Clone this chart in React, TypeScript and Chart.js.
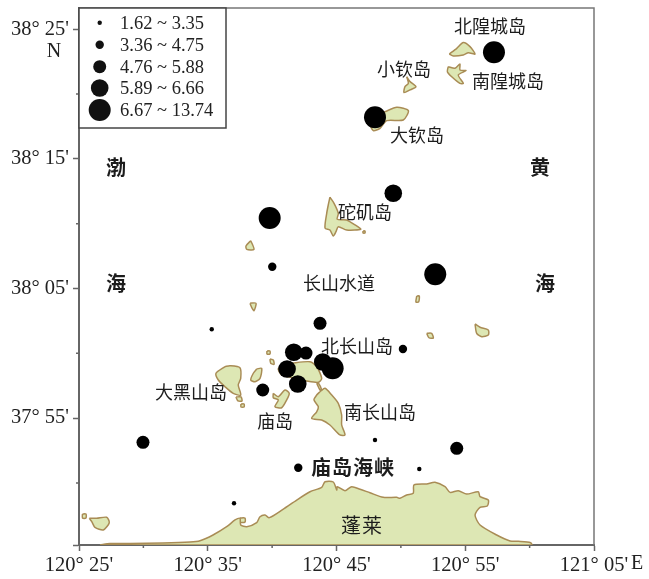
import React, { useEffect, useRef } from "react";
import { Chart, registerables } from "chart.js";

Chart.register(...registerables);

// All positions: minutes east of 120° (x) and minutes north of 37° (y)
const xMajor = [25, 35, 45, 55, 65];
const xMinor = [30, 40, 50, 60];
const xTickLabels = ["120° 25'", "120° 35'", "120° 45'", "120° 55'", "121° 05'"];
const yMajor = [45.21, 55, 65, 75, 85];
const yMinor = [50, 60, 70, 80];
const yTickLabels = ["", "37° 55'", "38° 05'", "38° 15'", "38° 25'"];

const legendLabels = ["1.62 ~ 3.35", "3.36 ~ 4.75", "4.76 ~ 5.88", "5.89 ~ 6.66", "6.67 ~ 13.74"];

const class1 = [[35.31, 61.85], [47.99, 53.31], [51.43, 51.07], [37.04, 48.43]];
const class2 = [[40.01, 66.68], [50.16, 60.33], [42.03, 51.17]];
const class3 = [[43.72, 62.31], [42.63, 60.02], [39.27, 57.17], [29.97, 53.13], [54.34, 52.67]];
const class4 = [[49.41, 72.35], [41.68, 60.08], [41.16, 58.79], [41.99, 57.63], [43.93, 59.33]];
const class5 = [[57.23, 83.23], [47.99, 78.21], [39.81, 70.44], [52.67, 66.10], [44.70, 58.84]];
const classes = [class1, class2, class3, class4, class5];

const penglai = [[26.63, 45.21], [27.41, 45.32], [28.96, 45.32], [31.52, 45.36], [33.62, 45.44], [34.40, 45.54], [35.41, 45.98], [36.47, 46.62], [37.12, 47.14], [37.50, 47.27], [37.56, 46.75], [38.03, 46.62], [38.80, 46.93], [39.06, 47.39], [39.45, 47.52], [39.78, 47.32], [40.84, 47.96], [41.91, 48.68], [42.94, 49.32], [43.85, 49.66], [44.11, 50.09], [44.75, 50.07], [45.02, 49.45], [45.06, 49.71], [45.66, 49.40], [46.18, 49.71], [46.83, 49.51], [47.60, 49.24], [48.63, 48.89], [49.68, 48.89], [49.93, 48.81], [50.45, 49.07], [50.96, 49.20], [51.02, 49.84], [52.01, 49.92], [52.65, 50.05], [53.43, 49.71], [53.82, 49.27], [54.46, 49.40], [55.11, 49.14], [56.01, 49.32], [56.15, 48.94], [56.79, 48.68], [56.71, 48.22], [56.15, 48.12], [55.76, 47.52], [56.15, 46.75], [57.44, 45.98], [58.48, 45.52], [59.12, 45.49], [60.08, 45.39], [60.16, 45.21]];
const daheishan = [[36.34, 58.97], [36.73, 59.04], [37.50, 58.89], [37.56, 58.07], [37.37, 57.55], [37.56, 56.78], [36.98, 56.91], [36.34, 57.42], [35.82, 57.94], [35.64, 58.46]];
const daheishanTail = [[37.19, 56.63], [37.58, 56.63], [37.66, 56.32], [37.35, 56.32]];
const daheishanDot = [[37.58, 56.09], [37.82, 56.09], [37.82, 55.86], [37.58, 55.86]];
const xiaoheishan = [[38.80, 58.79], [39.19, 58.84], [39.06, 58.07], [38.67, 57.81], [38.34, 57.94], [38.54, 58.46]];
const islet1 = [[39.83, 59.56], [40.09, 59.48], [40.15, 59.15], [39.89, 59.23]];
const islet2 = [[39.60, 60.18], [39.83, 60.18], [39.83, 59.95], [39.60, 59.95]];
const miaodao = [[40.09, 56.91], [40.48, 56.65], [41.00, 57.17], [41.33, 56.91], [41.13, 56.40], [40.74, 55.80], [40.22, 55.88], [40.48, 56.40], [40.09, 56.57]];
const beichangshan = [[41.39, 59.23], [42.94, 59.35], [43.46, 58.97], [43.85, 58.07], [43.59, 57.76], [42.69, 57.86], [41.78, 58.07], [40.74, 58.33], [40.48, 58.84]];
const causeway = [[43.46, 57.69], [43.72, 57.17], [43.85, 57.17], [43.60, 57.69]];
const nanchangshan = [[43.72, 57.04], [44.11, 57.30], [44.63, 56.78], [45.14, 56.14], [45.40, 55.24], [45.40, 54.47], [45.66, 53.70], [45.27, 53.70], [44.49, 54.47], [43.85, 54.85], [43.07, 54.98], [43.46, 55.49], [43.59, 55.88], [43.25, 56.40], [43.46, 56.78]];
const tuoji = [[44.49, 72.04], [44.81, 71.57], [45.14, 70.80], [45.06, 70.34], [45.79, 70.29], [46.44, 69.90], [46.88, 69.57], [45.79, 69.51], [45.14, 69.77], [44.96, 69.38], [44.75, 69.05], [44.49, 69.51], [44.11, 69.65], [44.24, 70.80], [44.36, 71.44]];
const tuojiDot = [[47.06, 69.44], [47.21, 69.44], [47.21, 69.28], [47.06, 69.28]];
const islet3 = [[38.34, 68.69], [38.59, 68.02], [38.03, 68.02], [37.97, 68.28]];
const islet4 = [[38.28, 63.86], [38.75, 63.86], [38.59, 63.29], [38.41, 63.55]];
const islet5 = [[51.23, 64.42], [51.43, 64.42], [51.38, 63.96], [51.17, 63.96]];
const islet6 = [[52.01, 61.54], [52.39, 61.54], [52.52, 61.18], [52.18, 61.20]];
const islet7 = [[55.76, 62.26], [56.15, 62.01], [56.79, 61.80], [56.79, 61.41], [56.28, 61.28], [55.89, 61.54]];
const beihuangcheng = [[53.76, 83.09], [54.34, 83.53], [54.85, 83.97], [55.37, 83.66], [55.76, 83.09], [55.24, 83.19], [54.85, 83.02], [54.07, 82.94]];
const nanhuangcheng = [[53.68, 82.11], [54.20, 81.99], [54.59, 82.32], [54.59, 81.86], [55.06, 81.81], [54.46, 81.47], [54.85, 80.83], [54.59, 80.83], [53.95, 81.34], [53.61, 81.73]];
const xiaoqin = [[50.45, 81.34], [50.71, 80.96], [51.17, 80.57], [50.71, 80.32], [50.24, 80.11], [50.32, 80.57], [50.58, 80.83]];
const daqin = [[48.77, 78.64], [49.68, 78.98], [50.58, 78.72], [50.19, 78.00], [48.90, 77.95], [48.38, 77.36], [47.86, 77.18], [47.60, 77.75], [47.99, 78.52]];
const swIsland = [[25.80, 47.27], [26.37, 47.27], [27.15, 47.35], [27.35, 46.93], [26.89, 46.37], [26.24, 46.57], [25.99, 47.01]];
const swDot = [[25.27, 47.60], [25.54, 47.60], [25.54, 47.29], [25.27, 47.29]];
const penglaiPatch = [[37.50, 47.29], [37.89, 47.29], [37.89, 46.98], [37.50, 46.98]];

const landShapes = [penglai, daheishan, daheishanTail, daheishanDot, xiaoheishan, islet1, islet2, miaodao, beichangshan, causeway, nanchangshan, tuoji, tuojiDot, islet3, islet4, islet5, islet6, islet7, beihuangcheng, nanhuangcheng, xiaoqin, daqin, swIsland, swDot, penglaiPatch];

// Layout and style, kept apart from the data
const RADII = [2.2, 4.2, 6.5, 8.8, 11];
const SERIF = '"Liberation Serif", serif';
const CJK = '"Noto Sans CJK SC", sans-serif';
const LAND = "#dde7b4";
const COAST = "#a98c55";
const AXIS = "#666666";

const mapLabels: [string, number, number, number, string, string][] = [
  ["北隍城岛", 490, 26, 18, "0px", "normal"],
  ["南隍城岛", 508, 81, 18, "0px", "normal"],
  ["小钦岛", 404, 69, 18, "0px", "normal"],
  ["大钦岛", 417, 135, 18, "0px", "normal"],
  ["砣矶岛", 365, 212, 18, "0px", "normal"],
  ["长山水道", 339, 283, 18, "0px", "normal"],
  ["北长山岛", 357, 346, 18, "0px", "normal"],
  ["南长山岛", 380, 412, 18, "0px", "normal"],
  ["大黑山岛", 191, 392, 18, "0px", "normal"],
  ["庙岛", 275, 421, 18, "0px", "normal"],
  ["庙岛海峡", 353, 467, 20, "1px", "bold"],
  ["蓬莱", 362, 525, 20, "1px", "normal"],
  ["渤", 116, 167, 20, "0px", "bold"],
  ["海", 116, 283, 20, "0px", "bold"],
  ["黄", 540, 167, 20, "0px", "bold"],
  ["海", 545, 283, 20, "0px", "bold"],
];

const mapFurniture = {
  id: "mapFurniture",
  afterDatasetsDraw(chart: any) {
    const { ctx, chartArea: a, scales } = chart;
    ctx.save();

    // frame
    ctx.strokeStyle = "#777777";
    ctx.lineWidth = 1.5;
    ctx.beginPath();
    ctx.moveTo(a.left, a.top);
    ctx.lineTo(a.right, a.top);
    ctx.lineTo(a.right, a.bottom);
    ctx.stroke();

    // short minor ticks
    ctx.strokeStyle = AXIS;
    ctx.lineWidth = 1.5;
    ctx.beginPath();
    xMinor.forEach((v) => {
      const p = scales.x.getPixelForValue(v);
      ctx.moveTo(p, a.bottom);
      ctx.lineTo(p, a.bottom + 3);
    });
    yMinor.forEach((v) => {
      const p = scales.y.getPixelForValue(v);
      ctx.moveTo(a.left, p);
      ctx.lineTo(a.left - 3, p);
    });
    ctx.stroke();

    // Chinese place names
    ctx.fillStyle = "#1c1c1c";
    ctx.textAlign = "center";
    ctx.textBaseline = "middle";
    mapLabels.forEach(([text, x, y, size, spacing, weight]) => {
      ctx.font = `${weight} ${size}px ${CJK}`;
      ctx.letterSpacing = spacing;
      ctx.fillText(text, x, y);
    });
    ctx.letterSpacing = "0px";

    // axis letters
    ctx.font = `20px ${SERIF}`;
    ctx.fillStyle = "#222222";
    ctx.fillText("N", 54, 52);
    ctx.fillText("E", 637, 564);

    // legend
    ctx.fillStyle = "#ffffff";
    ctx.fillRect(79, 8, 147, 120);
    ctx.strokeStyle = "#444444";
    ctx.lineWidth = 1.5;
    ctx.strokeRect(79, 8, 147, 120);
    const rows = [22.7, 44.7, 66.7, 88, 110];
    ctx.textAlign = "left";
    ctx.font = `18.5px ${SERIF}`;
    legendLabels.forEach((label, i) => {
      ctx.fillStyle = "#111111";
      ctx.beginPath();
      ctx.arc(99.7, rows[i], RADII[i], 0, Math.PI * 2);
      ctx.fill();
      ctx.fillStyle = "#222222";
      ctx.fillText(label, 120, rows[i] + 1);
    });
    ctx.restore();
  },
};

const noScalePadding = (s: any) => {
  s.paddingTop = 0;
  s.paddingBottom = 0;
  s.paddingLeft = 0;
  s.paddingRight = 0;
};

export default function App() {
  const ref = useRef<HTMLCanvasElement>(null);
  useEffect(() => {
    const toXY = (pts: number[][]) => pts.map(([x, y]) => ({ x, y }));
    const land = landShapes.map((shape) => ({
      data: toXY([...shape, shape[0]]),
      showLine: true,
      fill: "shape",
      tension: 0.25,
      backgroundColor: LAND,
      borderColor: COAST,
      borderWidth: 1.5,
      pointRadius: 0,
      order: 2,
    }));
    const points = classes.map((pts, i) => ({
      data: toXY(pts),
      pointRadius: RADII[i],
      pointBackgroundColor: "#000000",
      pointBorderWidth: 0,
      showLine: false,
      order: 1,
    }));
    const chart = new Chart(ref.current as HTMLCanvasElement, {
      type: "scatter",
      data: { datasets: [...land, ...points] as any },
      plugins: [mapFurniture],
      options: {
        animation: false,
        responsive: false,
        layout: { autoPadding: false, padding: { top: 8, right: 55, left: 0, bottom: 0 } },
        plugins: { legend: { display: false }, tooltip: { enabled: false } },
        scales: {
          x: {
            type: "linear",
            min: 25,
            max: 65,
            afterBuildTicks: (s: any) => {
              s.ticks = xMajor.map((value) => ({ value }));
            },
            afterFit: (s: any) => {
              s.height = 34;
              noScalePadding(s);
            },
            grid: { drawOnChartArea: false, tickLength: 6, tickColor: AXIS, tickWidth: 1.5 },
            border: { color: AXIS, width: 2 },
            ticks: {
              autoSkip: false,
              maxRotation: 0,
              padding: 2,
              color: "#222222",
              font: { family: SERIF, size: 20.5 },
              callback: (v: any) => xTickLabels[xMajor.indexOf(v)] ?? "",
            },
          },
          y: {
            type: "linear",
            min: 45.21,
            max: 86.64,
            afterBuildTicks: (s: any) => {
              s.ticks = yMajor.map((value) => ({ value }));
            },
            afterFit: (s: any) => {
              s.width = 79;
              noScalePadding(s);
            },
            grid: { drawOnChartArea: false, tickLength: 6, tickColor: AXIS, tickWidth: 1.5 },
            border: { color: AXIS, width: 2 },
            ticks: {
              autoSkip: false,
              padding: 4,
              color: "#222222",
              font: { family: SERIF, size: 20.5 },
              callback: (v: any) => yTickLabels[yMajor.indexOf(v)] ?? "",
            },
          },
        },
      } as any,
    });
    return () => chart.destroy();
  }, []);
  return (
    <div style={{ position: "absolute", left: 0, top: 0, width: 649, height: 579, background: "#ffffff" }}>
      <canvas ref={ref} width={649} height={579} style={{ display: "block" }} />
    </div>
  );
}
